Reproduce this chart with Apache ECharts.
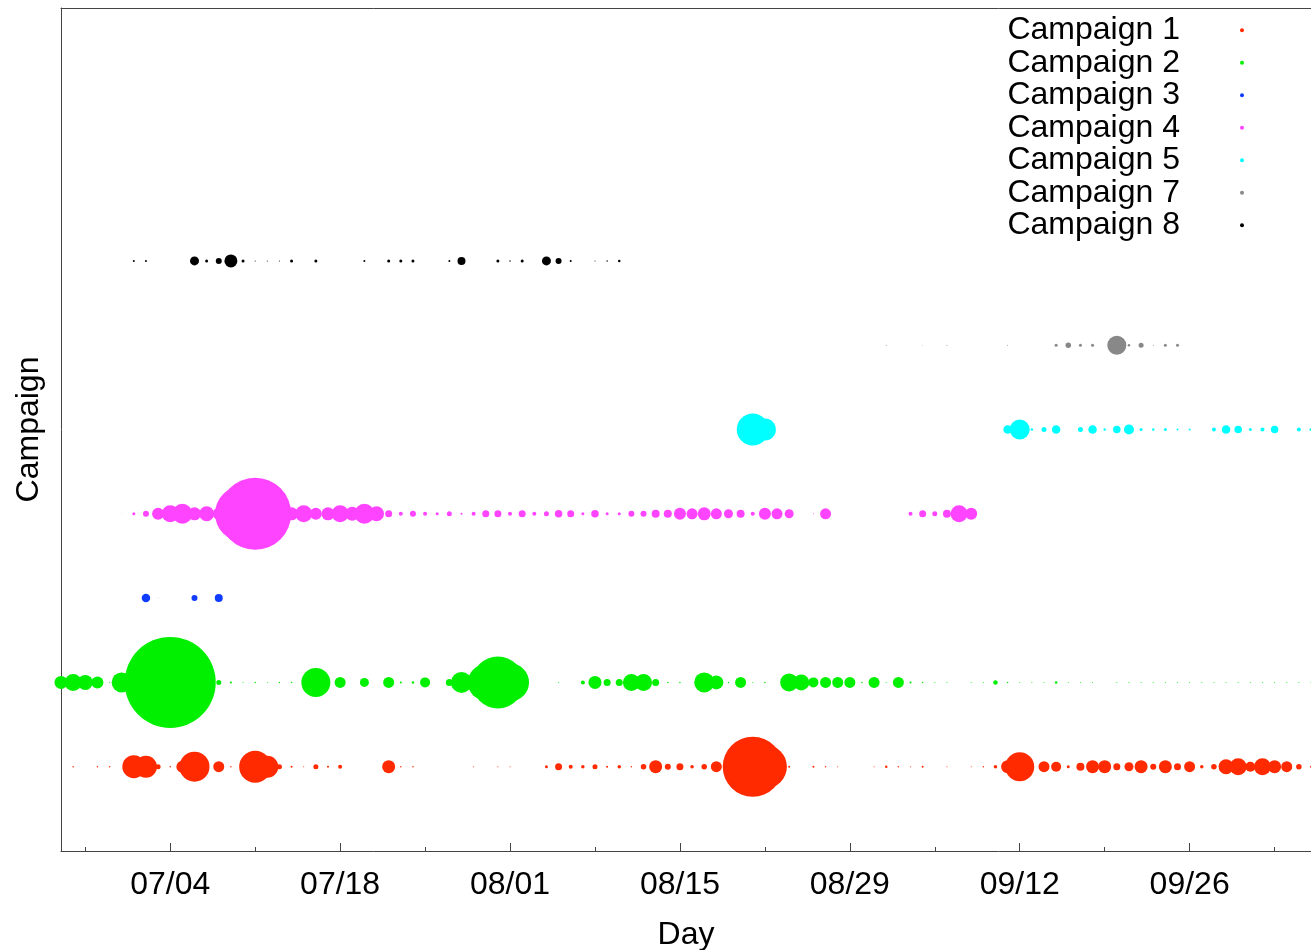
<!DOCTYPE html>
<html>
<head>
<meta charset="utf-8">
<script src="https://cdn.jsdelivr.net/npm/echarts@6/dist/echarts.min.js"></script>
<style>
  html, body { margin: 0; padding: 0; background: #fff; }
  #chart { width: 1311px; height: 950px; }
</style>
</head>
<body>
<div id="chart"></div>
<script>
// days are counted from 06/25 (day 0); each point is [day, bubble size]
var campaignNames = ["Campaign 1", "Campaign 2", "Campaign 3", "Campaign 4", "Campaign 5", "Campaign 7", "Campaign 8"];
var campaignColors = ["#ff2a00", "#00f000", "#0f3cff", "#ff44ff", "#00ffff", "#888888", "#000000"];

var tickDays = [9, 23, 37, 51, 65, 79, 93];
var tickLabels = ["07/04", "07/18", "08/01", "08/15", "08/29", "09/12", "09/26"];
var minorTickDays = [2, 16, 30, 44, 58, 72, 86, 100];

var c1 = [[1,1.5],[3,1.5],[4,1.5],[6,23],[7,22],[8,5],[9,1.5],[10,12],[11,30],[13,11],[14,1.5],[16,32],[17,22],[18,5],[19,2],[20,1],[21,5],[22,2],[23,4],[27,13],[28,1.5],[29,1.5],[34,1],[36,1],[37,1],[40,3],[41,7],[42,4],[43,3.5],[44,5],[45,2],[46,3.5],[47,1.5],[48,5.5],[49,13],[50,6],[51,7],[52,3.5],[53,5.5],[54,11],[57,60],[58,44],[60,2],[62,2],[63,1.5],[64,1],[67,1],[68,2.5],[69,1.5],[70,1],[71,2],[73,1],[75,1],[76,1.5],[77,3.5],[78,13],[79,29],[81,11],[82,10],[83,3],[84,8],[85,13],[86,13],[87,7],[88,9],[89,13],[90,6],[91,13],[92,7],[93,11],[94,3.5],[95,5.5],[96,15],[97,17],[98,10],[99,17],[100,13],[101,11],[102,5.5],[103,2]];
var c2 = [[0,13],[1,17],[2,15],[3,12],[4,1],[5,20],[9,91],[13,5],[14,2],[15,1],[16,1.5],[17,1],[18,1.5],[19,1.5],[21,29],[23,11],[25,9],[27,11],[28,2],[29,2.5],[30,10],[32,7],[33,21],[35,36],[36,52],[37,38],[41,1],[43,4],[44,13],[45,7],[46,7],[47,17],[48,17],[49,7],[50,1.5],[51,1.5],[53,20],[54,14],[55,1.5],[56,11],[57,1],[58,1.5],[60,18],[61,16],[62,10],[63,11],[64,11],[65,11],[66,1.5],[67,11],[68,1],[69,11],[70,2],[71,1.5],[72,1],[73,1],[75,1],[76,1],[77,4.5],[78,1.5],[79,1],[80,1],[81,1],[82,2.5],[83,1],[84,1],[85,1],[87,1],[88,1],[89,1],[90,1],[91,1],[92,1],[93,1],[94,1],[95,1],[96,1],[97,1],[98,1],[99,1],[100,1],[101,1],[102,1],[103,1]];
var c3 = [[7,8.5],[8,0.5],[11,6],[13,8]];
var c4 = [[5,0.5],[6,3],[7,6],[8,12],[9,17],[10,20],[11,13],[12,15],[13,12],[14,20],[15,56],[16,72],[17,14],[18,14],[19,13],[20,17],[21,12],[22,13],[23,17],[24,14],[25,20],[26,15],[27,7],[28,4],[29,6],[30,4],[31,3],[32,5],[33,2],[34,4],[35,7],[36,7],[37,4],[38,7],[39,4],[40,5],[41,7.5],[42,7],[43,3],[44,7.5],[45,3],[46,3],[47,6],[48,6],[49,8],[50,8],[51,12],[52,11],[53,13],[54,11],[55,9],[56,8],[57,4],[58,12],[59,11],[60,9],[62,1],[63,11],[70,4],[71,7],[72,5],[73,8],[74,17],[75,12]];
var c5 = [[57,32],[58,22],[78,8.5],[79,20],[80,2.5],[81,5],[82,8.5],[84,5],[85,8.5],[86,2.5],[87,7.5],[88,10],[89,3],[90,2.5],[91,3],[92,2],[93,2],[95,4],[96,8.5],[97,7.5],[98,3],[99,4],[100,7.5],[101,0.5],[102,4],[103,3]];
var c7 = [[68,1],[71,0.7],[73,1],[78,1],[82,3],[83,5.5],[84,3],[85,3],[87,19],[88,2.5],[89,5],[90,1],[91,3],[92,3]];
var c8 = [[6,2],[7,2],[11,9],[12,3],[13,6],[14,13],[15,3],[16,1],[17,1],[18,1],[19,3],[21,3],[25,2],[27,3],[28,3],[29,3],[32,2],[33,8],[36,3],[37,1.5],[38,3],[40,9],[41,6],[42,2],[44,1],[45,1.5],[46,2.5]];

var campaigns = [c1, c2, c3, c4, c5, c7, c8];

var chart = echarts.init(document.getElementById("chart"));
var font = "'Liberation Sans', Arial, sans-serif";
var frame = "#444";

var series = campaigns.map(function (pts, i) {
  return {
    name: campaignNames[i],
    type: "scatter",
    color: campaignColors[i],
    xAxisIndex: 0,
    data: pts.map(function (p) { return [p[0], i + 1, p[1]]; }),
    symbolSize: function (v) { return v[2]; },
    itemStyle: { opacity: 1 },
    emphasis: { disabled: true }
  };
});

var option = {
  animation: false,
  backgroundColor: "#fff",
  grid: { left: 61, right: 0, top: 8, bottom: 99, outerBoundsMode: "none" },
  legend: {
    orient: "vertical",
    right: 62,
    top: 9,
    align: "right",
    icon: "circle",
    itemWidth: 4,
    itemHeight: 4,
    itemGap: 0,
    selectedMode: false,
    data: campaignNames,
    textStyle: {
      fontFamily: font,
      fontSize: 32,
      lineHeight: 32.5,
      color: "#000",
      padding: [0, 55, 0, 0]
    }
  },
  xAxis: [
    {
      type: "value",
      min: 0,
      max: 103,
      position: "bottom",
      name: "Day",
      nameLocation: "middle",
      nameGap: 68,
      nameTextStyle: { fontFamily: font, fontSize: 32, color: "#000" },
      axisLine: { show: true, lineStyle: { color: frame, width: 1 } },
      axisTick: { show: true, inside: true, length: 8, customValues: tickDays, lineStyle: { color: frame } },
      axisLabel: {
        customValues: tickDays,
        margin: 18,
        fontFamily: font,
        fontSize: 32,
        color: "#000",
        formatter: function (v) {
          var k = tickDays.indexOf(v);
          return k >= 0 ? tickLabels[k] : "";
        }
      },
      splitLine: { show: false }
    },
    {
      type: "value",
      min: 0,
      max: 103,
      position: "bottom",
      axisLine: { show: false },
      axisTick: { show: true, inside: true, length: 4, customValues: minorTickDays, lineStyle: { color: frame } },
      axisLabel: { show: false },
      splitLine: { show: false }
    },
    {
      type: "value",
      min: 0,
      max: 103,
      position: "top",
      axisLine: { show: true, lineStyle: { color: frame, width: 1 } },
      axisTick: { show: false },
      axisLabel: { show: false },
      splitLine: { show: false }
    }
  ],
  yAxis: {
    type: "value",
    min: 0,
    max: 10,
    name: "Campaign",
    nameLocation: "middle",
    nameGap: 16,
    nameTextStyle: { fontFamily: font, fontSize: 32, color: "#000" },
    axisLine: { show: true, lineStyle: { color: frame, width: 1 } },
    axisTick: { show: false },
    axisLabel: { show: false },
    splitLine: { show: false }
  },
  series: series
};

chart.setOption(option);
</script>
</body>
</html>
